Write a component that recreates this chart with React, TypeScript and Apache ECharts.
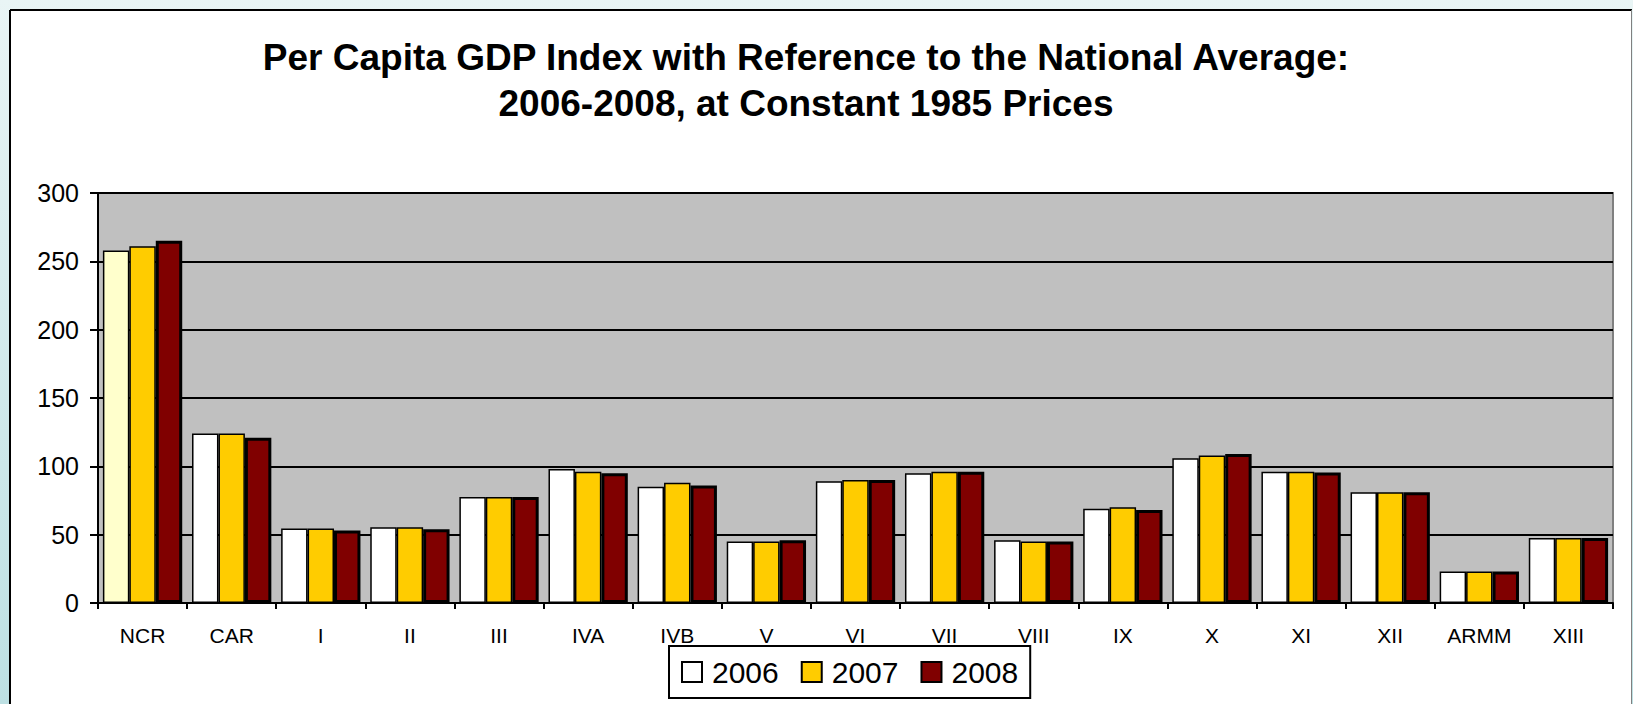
import React, { useEffect, useRef } from "react";
import * as echarts from "echarts";

const categories = ["NCR", "CAR", "I", "II", "III", "IVA", "IVB", "V", "VI", "VII", "VIII", "IX", "X", "XI", "XII", "ARMM", "XIII"];
const seriesNames = ["2006", "2007", "2008"];
const v2006 = [258, 124, 54.5, 55.5, 77.5, 98, 85, 45, 89, 95, 46, 69, 106, 96, 81, 23, 47.5];
const v2007 = [261, 124, 54.5, 55.5, 77.5, 96, 88, 45, 90, 96, 45, 70, 108, 96, 81, 23, 47.5];
const v2008 = [265, 121, 53, 54, 77.5, 95, 86, 46, 90, 96, 45, 68, 109, 95.5, 81, 23, 47.5];
const yTicks = [0, 50, 100, 150, 200, 250, 300];

const FONT = 'Arial, "Liberation Sans", sans-serif';

export default function App() {
  const ref = useRef<HTMLDivElement>(null);
  useEffect(() => {
    if (!ref.current) return;
    const chart = echarts.init(ref.current, undefined, { renderer: "svg" });
    const data2006 = v2006.map((v, i) => (i === 0 ? { value: v, itemStyle: { color: "#ffffcc" } } : v));
    chart.setOption({
      animation: false,
      textStyle: { fontFamily: FONT },
      graphic: [
        {
          type: "rect",
          z: -100,
          silent: true,
          shape: { x: 0, y: 0, width: 1633, height: 704 },
          style: {
            fill: new echarts.graphic.LinearGradient(0, 0, 0, 1, [
              { offset: 0, color: "#e9f5f5" },
              { offset: 1, color: "#bde0e3" },
            ]),
          },
        },
        {
          type: "rect",
          z: -90,
          silent: true,
          shape: { x: 10, y: 10, width: 1621, height: 720 },
          style: { fill: "#ffffff" },
        },
        { type: "line", z: -80, silent: true, shape: { x1: 10, y1: 10, x2: 1632, y2: 10 }, style: { stroke: "#000", lineWidth: 2 } },
        { type: "line", z: -80, silent: true, shape: { x1: 10, y1: 10, x2: 10, y2: 704 }, style: { stroke: "#000", lineWidth: 2 } },
        { type: "line", z: -80, silent: true, shape: { x1: 1631.5, y1: 10, x2: 1631.5, y2: 704 }, style: { stroke: "#808080", lineWidth: 1 } },
      ],
      title: {
        text: "Per Capita GDP Index with Reference to the National Average:\n2006-2008, at Constant 1985 Prices",
        left: 806,
        top: 34,
        padding: 0,
        textAlign: "center",
        textStyle: { fontFamily: FONT, fontSize: 37, fontWeight: "bold", color: "#000", lineHeight: 46 },
      },
      legend: {
        data: seriesNames,
        left: 669,
        top: 646,
        orient: "horizontal",
        padding: [11, 12],
        itemWidth: 20,
        itemHeight: 20,
        itemGap: 22,
        icon: "rect",
        backgroundColor: "#ffffff",
        borderColor: "#000",
        borderWidth: 2,
        borderRadius: 0,
        textStyle: { fontFamily: FONT, fontSize: 30, color: "#000", padding: [0, 0, 0, 5] },
      },
      grid: {
        left: 98,
        right: 20,
        top: 193,
        bottom: 101,
        show: true,
        backgroundColor: "#c0c0c0",
        borderColor: "#808080",
        borderWidth: 2,
        containLabel: false,
      },
      xAxis: {
        type: "category",
        data: categories,
        axisLine: { show: true, lineStyle: { color: "#000", width: 2 } },
        axisTick: { show: true, length: 6, lineStyle: { color: "#000", width: 2 } },
        axisLabel: { interval: 0, fontFamily: FONT, fontSize: 21, color: "#000", margin: 22 },
        splitLine: { show: false },
      },
      yAxis: {
        type: "value",
        min: yTicks[0],
        max: yTicks[yTicks.length - 1],
        interval: 50,
        axisLine: { show: true, lineStyle: { color: "#000", width: 2 } },
        axisTick: { show: true, length: 8, lineStyle: { color: "#000", width: 2 } },
        axisLabel: { fontFamily: FONT, fontSize: 25, color: "#000", margin: 19 },
        splitLine: { show: true, lineStyle: { color: "#000", width: 2 } },
      },
      series: [
        {
          name: seriesNames[0],
          type: "bar",
          data: data2006,
          barGap: "0%",
          barCategoryGap: "11%",
          itemStyle: { color: "#ffffff", borderColor: "#000", borderWidth: 1.5 },
        },
        {
          name: seriesNames[1],
          type: "bar",
          data: v2007,
          barGap: "0%",
          barCategoryGap: "11%",
          itemStyle: { color: "#ffcc00", borderColor: "#000", borderWidth: 1.5 },
        },
        {
          name: seriesNames[2],
          type: "bar",
          data: v2008,
          barGap: "0%",
          barCategoryGap: "11%",
          itemStyle: { color: "#800000", borderColor: "#000", borderWidth: 3 },
        },
      ],
    });
    return () => chart.dispose();
  }, []);
  return <div ref={ref} style={{ position: "absolute", left: 0, top: 0, width: 1633, height: 704 }} />;
}
